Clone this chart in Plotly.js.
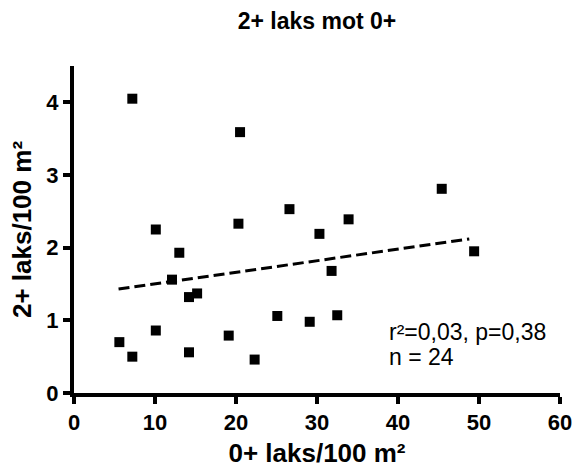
<!DOCTYPE html>
<html><head><meta charset="utf-8">
<script src="https://cdn.plot.ly/plotly-3.0.1.min.js"></script>
<style>html,body{margin:0;padding:0;background:#fff}#c{width:587px;height:471px}</style>
</head><body><div id="c"></div>
<script>
const xVals = [7.2, 20.5, 10.1, 20.3, 26.6, 13.0, 5.6, 7.2, 10.1, 12.1, 14.2, 15.2, 14.2, 19.1, 22.3, 25.1, 45.4, 33.9, 30.3, 49.4, 31.8, 32.5, 29.1];
const yVals = [4.05, 3.59, 2.25, 2.33, 2.53, 1.93, 0.70, 0.50, 0.86, 1.56, 1.32, 1.37, 0.56, 0.79, 0.46, 1.06, 2.81, 2.39, 2.19, 1.95, 1.68, 1.07, 0.98];
const fitX = [5.5, 48.8];
const fitY = [1.43, 2.12];
const xTicks = [0, 10, 20, 30, 40, 50, 60];
const yTicks = [0, 1, 2, 3, 4];
const statsLines = ["r²=0,03, p=0,38", "n = 24"];

const F = "Liberation Sans, Arial, sans-serif";
const traces = [
  {x: xVals, y: yVals, mode: 'markers', type: 'scatter',
   marker: {symbol: 'square', size: 10, color: '#000'}},
  {x: fitX, y: fitY, mode: 'lines', type: 'scatter',
   line: {color: '#000', width: 3, dash: '11px,5px'}}
];
const axisCommon = {
  showgrid: false, zeroline: false, showline: true, linecolor: '#000', linewidth: 4,
  ticks: 'outside', ticklen: 7, tickwidth: 4, tickcolor: '#000',
  tickfont: {family: F, size: 22, color: '#000'}
};
const layout = {
  width: 587, height: 471,
  margin: {l: 74, r: 27, t: 66, b: 78},
  paper_bgcolor: '#fff', plot_bgcolor: '#fff',
  showlegend: false,
  title: {text: '<b>2+ laks mot 0+</b>', font: {family: F, size: 23, color: '#000'}, xref: 'paper', x: 0.5, xanchor: 'center', y: 0.955, yanchor: 'middle'},
  xaxis: Object.assign({}, axisCommon, {range: [0, 60], tickvals: xTicks, ticktext: xTicks.map(v => '<b>' + v + '</b>'),
    title: {text: '<b>0+ laks/100 m²</b>', font: {family: F, size: 26, color: '#000'}, standoff: 10}}),
  yaxis: Object.assign({}, axisCommon, {range: [0, 4.5], tickvals: yTicks, ticktext: yTicks.map(v => '<b>' + v + '</b>'),
    title: {text: '<b>2+ laks/100 m²</b>', font: {family: F, size: 26, color: '#000'}, standoff: 8}}),
  annotations: [
    {x: 38.7, y: 0.84, xref: 'x', yref: 'y', xanchor: 'left', yanchor: 'middle', align: 'left',
     showarrow: false, text: statsLines[0], font: {family: F, size: 23, color: '#000'}},
    {x: 38.7, y: 0.49, xref: 'x', yref: 'y', xanchor: 'left', yanchor: 'middle', align: 'left',
     showarrow: false, text: statsLines[1], font: {family: F, size: 23, color: '#000'}}
  ]
};
Plotly.newPlot('c', traces, layout, {displayModeBar: false, staticPlot: true});
</script></body></html>
